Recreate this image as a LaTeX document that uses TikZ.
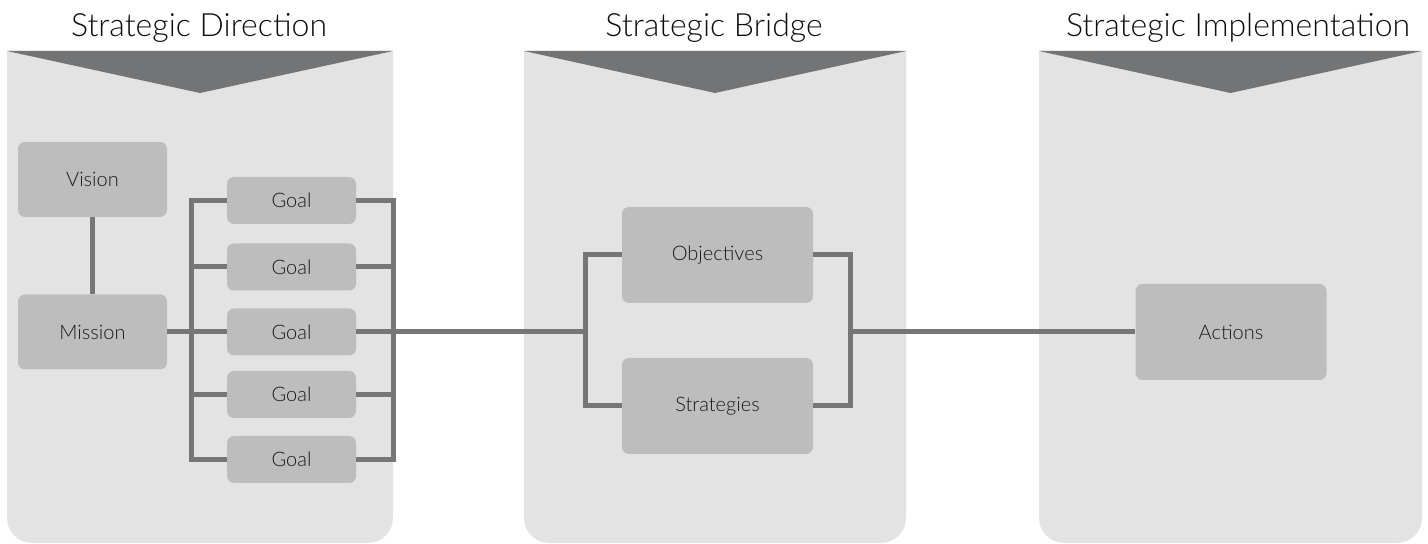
\documentclass[tikz,border=0pt]{standalone}
\usepackage{fontspec}
\setmainfont{Lato}[UprightFont={* Light}]
\usepackage{xcolor}

\definecolor{panelgray}{HTML}{E3E3E3}
\definecolor{headgray}{HTML}{737475}
\definecolor{boxgray}{HTML}{BDBDBD}
\definecolor{linegray}{HTML}{767676}

\begin{document}
\begin{tikzpicture}[x=0.5pt,y=-0.5pt,
    blk/.style={fill=boxgray,rounded corners=3.5pt,inner sep=0pt,minimum width=74.5pt,minimum height=37.5pt,
        font=\fontsize{10}{12}\selectfont,text=black!90},
    goal/.style={blk,minimum width=64.5pt,minimum height=23.5pt},
    big/.style={blk,minimum width=95.5pt,minimum height=48pt},
    ttl/.style={anchor=base,font=\fontsize{16}{19}\selectfont,text=black!95}]
            \useasboundingbox (0,0) rectangle (1428,544);

            \foreach \l/\r in {7/393,524/906,1039/1422} {
                \fill[panelgray,rounded corners=12.5pt] (\l,51) -- (\l,543) -- (\r,543) -- (\r,51);
                \fill[headgray] (\l,51) -- (\r,51) -- ({(\l+\r)/2},93) -- cycle;
            }

            \node[ttl] (tdir)  at (199,37)    {Strategic Direction};
            \node[ttl] (tbr)   at (714,37)    {Strategic Bridge};
            \node[ttl] (timpl) at (1238,37)   {Strategic Implementation};

            \node[blk] (vision)  at (92.5,179.5) {Vision};
            \node[blk] (mission) at (92.5,332)   {Mission};
            \foreach \n/\y in {1/200.5,2/267,3/332,4/394.5,5/459.5}
                \node[goal] (goal\n) at (291.5,\y) {Goal};

            \node[big] (obj)   at (717.5,255) {Objectives};
            \node[big] (strat) at (717.5,406) {Strategies};
            \node[big] (act)   at (1231,332)  {Actions};

            \coordinate (lbr) at (585,332);
            \coordinate (rbr) at (850,332);

            \begin{scope}[line width=2.5pt,linegray]
                \draw (vision) -- (mission);
                \draw (mission) -- (goal3);
                \draw (goal1.west) -- ++(-35,0) |- (goal5.west);
                \draw (goal1.east) -- ++(37,0) |- (goal5.east);
                \foreach \n in {2,3,4} {
                    \draw (goal\n.west) -- ++(-35,0);
                    \draw (goal\n.east) -- ++(37,0);
                }
                \draw (goal3.east) -- (lbr);
                \draw (obj.west) -| (lbr) |- (strat.west);
                \draw (obj.east) -| (rbr) |- (strat.east);
                \draw (rbr) -- (act);
            \end{scope}
        \end{tikzpicture}
\end{document}
